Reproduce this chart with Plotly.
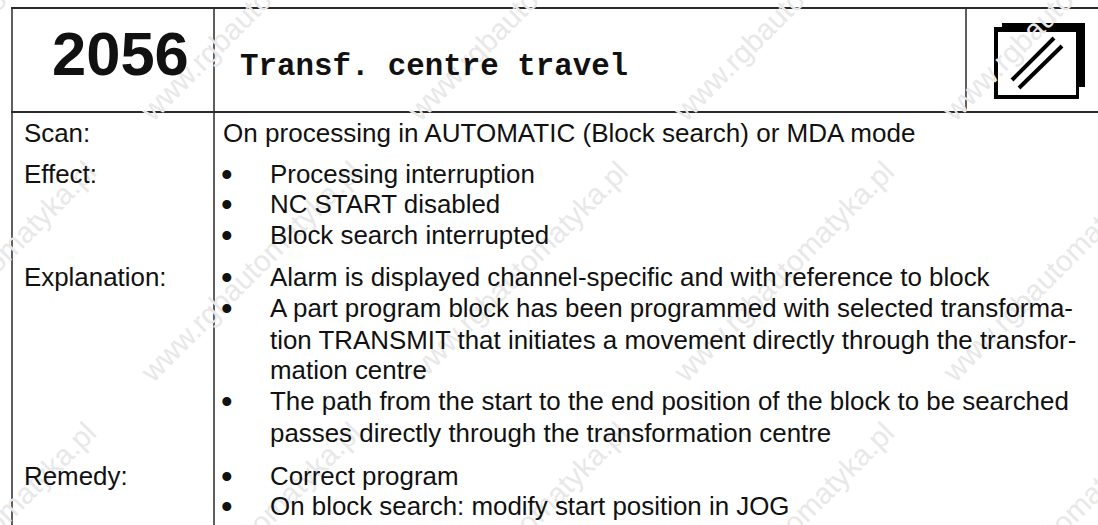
import plotly.graph_objects as go

# ---- content ----
alarm_number = "2056"
alarm_title = "Transf. centre travel"
row_labels = ["Scan:", "Effect:", "Explanation:", "Remedy:"]
scan_text = ["On processing in AUTOMATIC (Block search) or MDA mode"]
effect_lines = ["Processing interruption", "NC START disabled", "Block search interrupted"]
explanation_lines = [
    "Alarm is displayed channel-specific and with reference to block",
    "A part program block has been programmed with selected transforma-",
    "tion TRANSMIT that initiates a movement directly through the transfor-",
    "mation centre",
    "The path from the start to the end position of the block to be searched",
    "passes directly through the transformation centre",
]
remedy_lines = ["Correct program", "On block search: modify start position in JOG"]
watermark = "www.rgbautomatyka.pl"

# ---- layout (pixels) ----
W, H = 1098, 525
label_baselines = [142, 183, 286, 485]
scan_baselines = [142]
effect_baselines = [183, 213, 244]
expl_baselines = [286, 317, 349, 379, 410, 442]
remedy_baselines = [485, 515]
bullet_baselines = [183, 213, 244, 286, 317, 410, 485, 515]
wm_x = [-15, 250, 517, 783, 1052]
wm_y = [10, 271, 532]

BODY = 25.9
FONT = "Liberation Sans"
INK = "#111111"
LINE = "#2a2a2a"

fig = go.Figure()
fig.add_trace(go.Scatter(x=[0, W], y=[0, H], mode="markers", marker=dict(opacity=0), hoverinfo="skip", showlegend=False))


def text(x, base, s, size=BODY, family=FONT, anchor="left", weight="normal"):
    fig.add_annotation(x=x, y=base - size * 0.345, xref="x", yref="y", text=s, showarrow=False,
                       xanchor=anchor, yanchor="middle", borderpad=0,
                       font=dict(family=family, size=size, color=INK, weight=weight))


# watermark behind everything
for yy in wm_y:
    for xx in wm_x:
        fig.add_annotation(x=xx / W, y=1 - yy / H, xref="paper", yref="paper", text=watermark, showarrow=False,
                           textangle=-45, xanchor="center", yanchor="middle",
                           font=dict(family=FONT, size=29.5, color="#e8e8e8"))

# header
text(120, 75, alarm_number, size=61.5, anchor="center", weight="bold")
text(239, 77, alarm_title, size=30.8, family="Liberation Mono", weight="bold")

for s, b in zip(row_labels, label_baselines):
    text(23, b, s)
for s, b in zip(scan_text, scan_baselines):
    text(221.5, b, s, size=26.05)
for s, b in zip(effect_lines, effect_baselines):
    text(268.5, b, s)
for s, b in zip(explanation_lines, expl_baselines):
    text(268.5, b, s)
for s, b in zip(remedy_lines, remedy_baselines):
    text(268.5, b, s)
for b in bullet_baselines:
    text(227, b + 3, "•", size=33, anchor="center")


def line(x0, y0, x1, y1, w=1.5, c=LINE):
    fig.add_shape(type="line", x0=x0, y0=y0, x1=x1, y1=y1, xref="x", yref="y",
                  line=dict(color=c, width=w), layer="above")


line(11, 8, 1098, 8, 1.8)
line(11, 112, 1098, 112, 1.8)
line(12, 8, 12, 525)
line(214, 8, 214, 525)
line(966, 7, 966, 113)


def box(x0, y0, x1, y1, fc="black"):
    fig.add_shape(type="rect", x0=x0, y0=y0, x1=x1, y1=y1, xref="x", yref="y",
                  line=dict(width=0), fillcolor=fc, layer="above")


# icon
box(1002, 23, 1085, 32)
box(1076, 23, 1085, 87)
box(994, 27, 998, 99)
box(994, 27, 1004, 32)
box(994, 95, 1079, 99)
box(1076, 87, 1079, 99)
line(1012, 80, 1054, 38, 4, "black")
line(1019, 88, 1062, 46, 4, "black")

fig.update_xaxes(range=[0, W], visible=False, fixedrange=True)
fig.update_yaxes(range=[H, 0], visible=False, fixedrange=True)
fig.update_layout(width=W, height=H, margin=dict(l=0, r=0, t=0, b=0), paper_bgcolor="white",
                  plot_bgcolor="white", showlegend=False)
fig.write_html("out.html", config={"displayModeBar": False},
               post_script="document.body.style.margin='0';document.documentElement.style.overflow='hidden';")
